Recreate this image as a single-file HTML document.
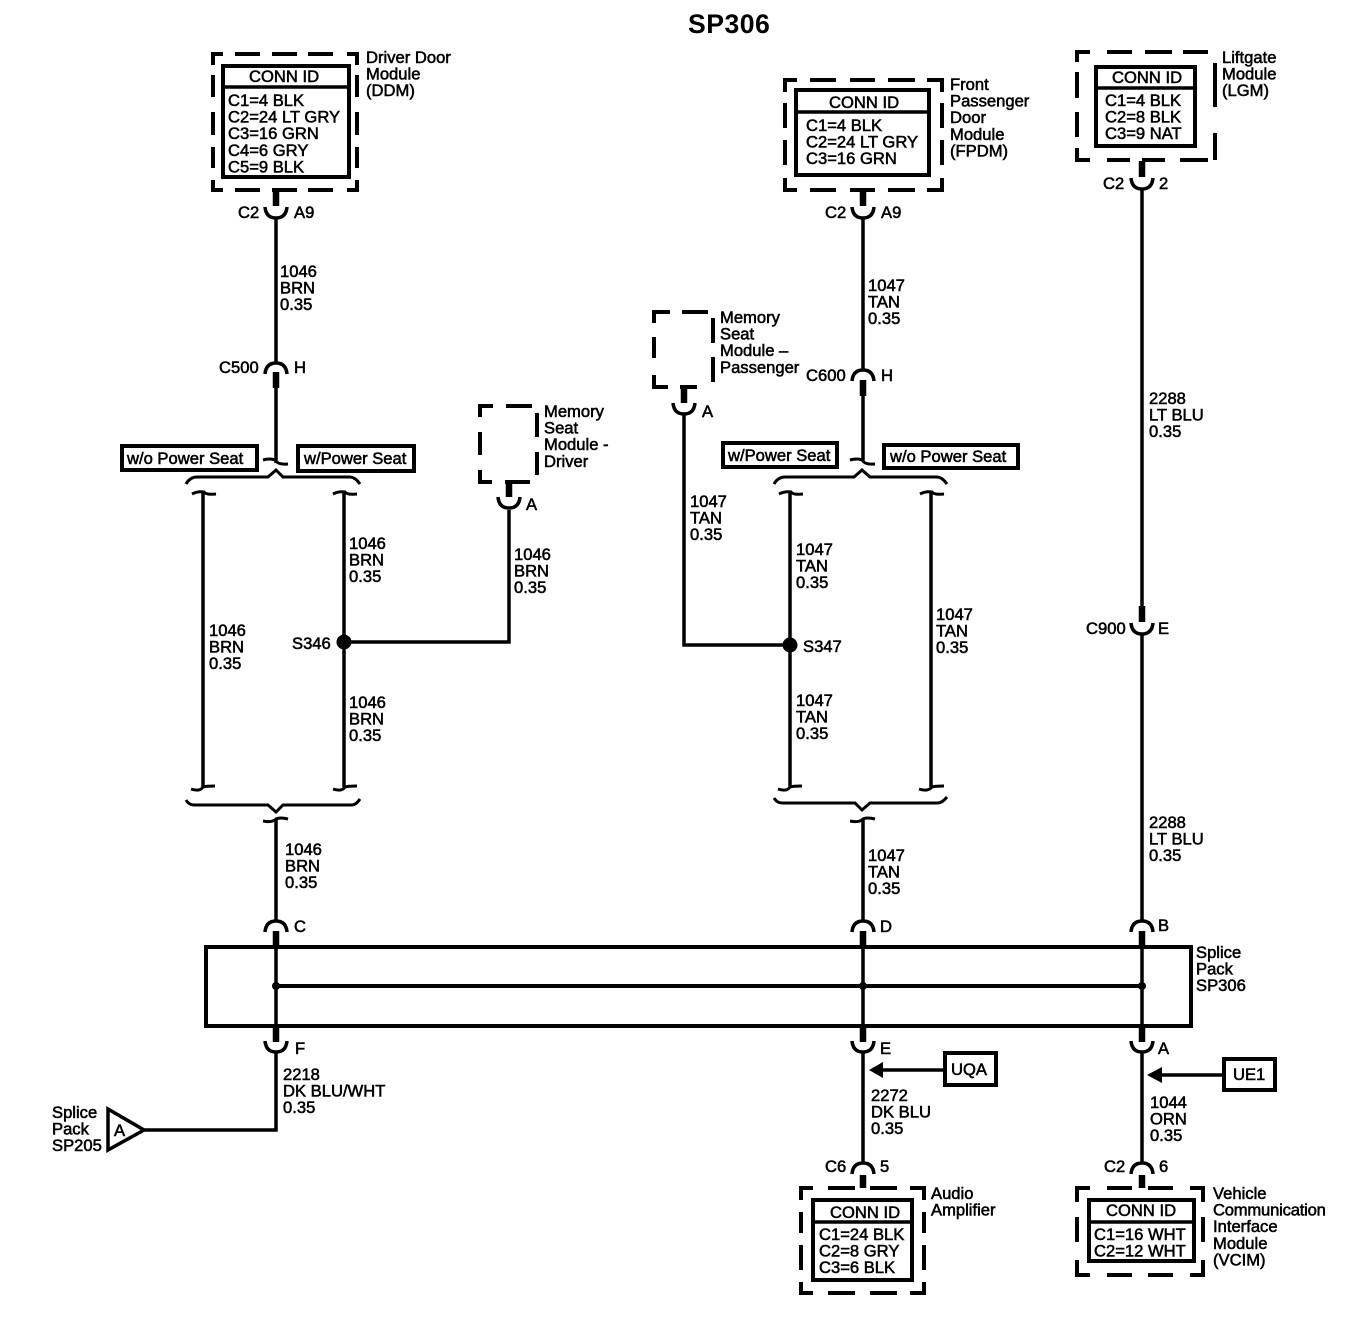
<!DOCTYPE html>
<html><head><meta charset="utf-8"><style>
html,body{margin:0;padding:0;background:#fff}
svg{display:block}
text{font-family:"Liberation Sans",sans-serif;font-size:16.6px;fill:#000;stroke:#000;stroke-width:.55px}
.w{fill:none;stroke:#000;stroke-width:3.5}
.s{fill:none;stroke:#000;stroke-width:6.5}
.b{fill:#fff;stroke:#000;stroke-width:4}
.d{fill:none;stroke:#000;stroke-width:4}
</style></head><body>
<svg width="1370" height="1344" viewBox="0 0 1370 1344" xmlns="http://www.w3.org/2000/svg">
<defs>
<path id="cup" class="w" d="M-11,0Q-10,11 0,11Q10,11 11,0"/>
<path id="arch" class="w" d="M-11,11Q-10,0 0,0Q10,0 11,11"/>
</defs>
<rect width="1370" height="1344" fill="#fff"/>
<text x="688" y="33" style="font-size:26.6px;font-weight:bold;stroke-width:0;letter-spacing:.5px">SP306</text>

<!-- dashed boxes -->
<path class="d" d="M213,65V54H223M235,54H260M272,54H297M308,54H333M347,54H357V65M357,75V97M357,112V135M357,147V168M357,180V190H347M333,190H308M297,190H272M260,190H235M223,190H213V180M213,168V147M213,135V112M213,97V75"/>
<path class="d" d="M785,92V80H797M810,80H836M850,80H875M888,80H915M927,80H942V92M942,103V128M942,140V165M942,178V190H927M915,190H888M875,190H850M836,190H810M797,190H785V178M785,165V140M785,128V103"/>
<path class="d" d="M1077,62V52H1090M1107,52H1132M1145,52H1172M1183,52H1208M1215,63V107M1215,133V160M1208,160H1180M1165,160H1142M1130,160H1107M1090,160H1077V148M1077,137V112M1077,98V72"/>
<path class="d" d="M480,417V406H493M506,406H532M537,413V437M537,452V475M530,482H505M492,482H480V470M480,455V432"/>
<path class="d" d="M654,323V312H670M682,312H708M713,318V343M713,357V382M697,387H680M668,387H654V375M654,358V337"/>
<path class="d" d="M801,1200V1188H813M828,1188H855M870,1188H897M910,1188H924V1200M924,1212V1233M924,1245V1270M924,1282V1293H910M897,1293H870M855,1293H828M813,1293H801V1282M801,1270V1245M801,1233V1212"/>
<path class="d" d="M1077,1202V1188H1090M1107,1188H1132M1148,1188H1173M1190,1188H1203V1202M1203,1217V1242M1203,1260V1275H1190M1173,1275H1148M1132,1275H1107M1090,1275H1077V1260M1077,1242V1217"/>

<!-- conn id boxes -->
<rect class="b" x="223" y="66" width="126" height="111"/><path class="w" d="M223,87H349"/>
<rect class="b" x="796" y="90" width="133" height="85"/><path class="w" d="M796,112H929"/>
<rect class="b" x="1096" y="67" width="99" height="79"/><path class="w" d="M1096,88H1195"/>
<rect class="b" x="813" y="1200" width="99" height="80"/><path class="w" d="M813,1222H912"/>
<rect class="b" x="1089" y="1200" width="105" height="61"/><path class="w" d="M1089,1222H1194"/>

<!-- splice pack -->
<rect class="b" x="206" y="947" width="985" height="79"/>
<path d="M276,986H1142" class="w" style="stroke-width:4"/>
<circle cx="276" cy="986" r="4"/><circle cx="863" cy="986" r="4"/><circle cx="1142" cy="986" r="4"/>

<!-- left harness -->
<use href="#cup" x="276" y="207"/>
<path class="s" d="M276,190V206M276,372V388M276,931V948M276,1026V1042"/>
<path class="w" d="M276,218V362M276,388V463M276,820V920M276,931V1040M276,1052V1130H144"/>
<use href="#arch" x="276" y="363"/>
<use href="#arch" x="276" y="921"/>
<use href="#cup" x="276" y="1041"/>
<path class="w" style="stroke-width:3" d="M263,460Q270,458 275,460Q278,465 288,464"/>
<path class="w" style="stroke-width:3" d="M186,484Q190,477 197,477H268L276,470L283,477H350Q355,477 360,484"/>
<path class="w" style="stroke-width:3" d="M192,494Q198,491 204,492Q206,495 216,494"/>
<path class="w" style="stroke-width:3" d="M333,494Q339,491 345,492Q347,495 357,494"/>
<path class="w" d="M203,492V787M344,492V787"/>
<path class="w" style="stroke-width:3" d="M191,789Q200,792 203,787Q206,786 215,786"/>
<path class="w" style="stroke-width:3" d="M333,789Q342,792 345,787Q348,786 357,786"/>
<path class="w" style="stroke-width:3" d="M186,800Q189,805 194,805H268L276,812L283,805H352Q356,805 360,799"/>
<path class="w" style="stroke-width:3" d="M263,821Q272,823 276,819Q280,817 288,819"/>
<circle cx="344" cy="642" r="7.5"/>
<path class="w" d="M344,642H509V510"/>
<path class="s" d="M509,482V497"/>
<use href="#cup" x="509" y="497"/>

<!-- center harness -->
<use href="#cup" x="863" y="207"/>
<path class="s" d="M863,190V206M863,380V396M863,931V948M863,1026V1042M863,1175V1188"/>
<path class="w" d="M863,218V369M863,396V461M863,820V920M863,931V1040M863,1052V1163"/>
<use href="#arch" x="863" y="370"/>
<use href="#arch" x="863" y="921"/>
<use href="#cup" x="863" y="1041"/>
<use href="#arch" x="863" y="1163"/>
<path class="w" style="stroke-width:3" d="M850,460Q857,458 862,460Q865,465 875,464"/>
<path class="w" style="stroke-width:3" d="M774,484Q778,477 785,477H854L862,470L870,477H937Q942,477 947,484"/>
<path class="w" style="stroke-width:3" d="M779,494Q785,491 791,492Q793,495 803,494"/>
<path class="w" style="stroke-width:3" d="M920,494Q926,491 932,492Q934,495 944,494"/>
<path class="w" d="M790,492V787M931,492V787"/>
<path class="w" style="stroke-width:3" d="M778,789Q787,792 790,787Q793,786 802,786"/>
<path class="w" style="stroke-width:3" d="M919,789Q928,792 932,787Q935,786 944,786"/>
<path class="w" style="stroke-width:3" d="M774,798Q777,803 782,803H855L862,810L870,803H938Q942,803 947,797"/>
<path class="w" style="stroke-width:3" d="M850,821Q859,823 863,819Q867,817 875,819"/>
<circle cx="790" cy="645" r="7.5"/>
<path class="w" d="M790,645H684V413"/>
<path class="s" d="M684,387V403"/>
<use href="#cup" x="684" y="403"/>

<!-- right harness -->
<use href="#cup" x="1142" y="178"/>
<path class="s" d="M1142,161V177M1142,606V622M1142,931V948M1142,1026V1042M1142,1175V1188"/>
<path class="w" d="M1142,189V606M1142,634V920M1142,931V1040M1142,1052V1163"/>
<use href="#cup" x="1142" y="623"/>
<use href="#arch" x="1142" y="921"/>
<use href="#cup" x="1142" y="1041"/>
<use href="#arch" x="1142" y="1163"/>

<!-- option boxes -->
<rect class="b" x="122" y="446" width="135" height="24"/>
<rect class="b" x="298" y="446" width="116" height="25"/>
<rect class="b" x="723" y="443" width="114" height="24"/>
<rect class="b" x="884" y="445" width="134" height="23"/>
<rect class="b" x="945" y="1053" width="51" height="32"/>
<rect class="b" x="1224" y="1059" width="51" height="31"/>
<path class="w" d="M880,1070H945M1160,1075H1224"/>
<path d="M869,1070L883,1062V1078Z"/>
<path d="M1147,1075L1162,1067V1083Z"/>
<path d="M108,1109L144,1130L108,1150Z" fill="#fff" stroke="#000" stroke-width="3.5"/>

<!-- text -->
<text x="249" y="82">CONN ID</text>
<text><tspan x="228" y="106">C1=4 BLK</tspan><tspan x="228" dy="16.6">C2=24 LT GRY</tspan><tspan x="228" dy="16.6">C3=16 GRN</tspan><tspan x="228" dy="16.6">C4=6 GRY</tspan><tspan x="228" dy="16.6">C5=9 BLK</tspan></text>
<text><tspan x="366" y="63">Driver Door</tspan><tspan x="366" dy="16.6">Module</tspan><tspan x="366" dy="16.6">(DDM)</tspan></text>
<text x="238" y="218">C2</text><text x="294" y="218">A9</text>
<text><tspan x="280" y="277">1046</tspan><tspan x="280" dy="16.6">BRN</tspan><tspan x="280" dy="16.6">0.35</tspan></text>
<text x="219" y="373">C500</text><text x="294" y="373">H</text>
<text x="127" y="464">w/o Power Seat</text>
<text x="304" y="464">w/Power Seat</text>
<text><tspan x="209" y="636">1046</tspan><tspan x="209" dy="16.6">BRN</tspan><tspan x="209" dy="16.6">0.35</tspan></text>
<text><tspan x="349" y="549">1046</tspan><tspan x="349" dy="16.6">BRN</tspan><tspan x="349" dy="16.6">0.35</tspan></text>
<text x="292" y="649">S346</text>
<text><tspan x="349" y="708">1046</tspan><tspan x="349" dy="16.6">BRN</tspan><tspan x="349" dy="16.6">0.35</tspan></text>
<text><tspan x="514" y="560">1046</tspan><tspan x="514" dy="16.6">BRN</tspan><tspan x="514" dy="16.6">0.35</tspan></text>
<text x="526" y="510">A</text>
<text><tspan x="544" y="417">Memory</tspan><tspan x="544" dy="16.6">Seat</tspan><tspan x="544" dy="16.6">Module -</tspan><tspan x="544" dy="16.6">Driver</tspan></text>
<text><tspan x="285" y="855">1046</tspan><tspan x="285" dy="16.6">BRN</tspan><tspan x="285" dy="16.6">0.35</tspan></text>
<text x="294" y="932">C</text><text x="295" y="1054">F</text>
<text><tspan x="283" y="1080">2218</tspan><tspan x="283" dy="16.6">DK BLU/WHT</tspan><tspan x="283" dy="16.6">0.35</tspan></text>
<text><tspan x="52" y="1118">Splice</tspan><tspan x="52" dy="16.6">Pack</tspan><tspan x="52" dy="16.6">SP205</tspan></text>
<text x="114" y="1136">A</text>

<text x="829" y="108">CONN ID</text>
<text><tspan x="806" y="131">C1=4 BLK</tspan><tspan x="806" dy="16.6">C2=24 LT GRY</tspan><tspan x="806" dy="16.6">C3=16 GRN</tspan></text>
<text><tspan x="950" y="90">Front</tspan><tspan x="950" dy="16.6">Passenger</tspan><tspan x="950" dy="16.6">Door</tspan><tspan x="950" dy="16.6">Module</tspan><tspan x="950" dy="16.6">(FPDM)</tspan></text>
<text x="825" y="218">C2</text><text x="881" y="218">A9</text>
<text><tspan x="868" y="291">1047</tspan><tspan x="868" dy="16.6">TAN</tspan><tspan x="868" dy="16.6">0.35</tspan></text>
<text x="806" y="381">C600</text><text x="881" y="381">H</text>
<text><tspan x="720" y="323">Memory</tspan><tspan x="720" dy="16.6">Seat</tspan><tspan x="720" dy="16.6">Module –</tspan><tspan x="720" dy="16.6">Passenger</tspan></text>
<text x="702" y="417">A</text>
<text x="728" y="461">w/Power Seat</text>
<text x="890" y="462">w/o Power Seat</text>
<text><tspan x="690" y="507">1047</tspan><tspan x="690" dy="16.6">TAN</tspan><tspan x="690" dy="16.6">0.35</tspan></text>
<text><tspan x="796" y="555">1047</tspan><tspan x="796" dy="16.6">TAN</tspan><tspan x="796" dy="16.6">0.35</tspan></text>
<text x="803" y="652">S347</text>
<text><tspan x="796" y="706">1047</tspan><tspan x="796" dy="16.6">TAN</tspan><tspan x="796" dy="16.6">0.35</tspan></text>
<text><tspan x="936" y="620">1047</tspan><tspan x="936" dy="16.6">TAN</tspan><tspan x="936" dy="16.6">0.35</tspan></text>
<text><tspan x="868" y="861">1047</tspan><tspan x="868" dy="16.6">TAN</tspan><tspan x="868" dy="16.6">0.35</tspan></text>
<text x="880" y="932">D</text><text x="880" y="1054">E</text>
<text x="951" y="1075">UQA</text>
<text><tspan x="871" y="1101">2272</tspan><tspan x="871" dy="16.6">DK BLU</tspan><tspan x="871" dy="16.6">0.35</tspan></text>
<text x="825" y="1172">C6</text><text x="880" y="1172">5</text>
<text x="830" y="1218">CONN ID</text>
<text><tspan x="819" y="1240">C1=24 BLK</tspan><tspan x="819" dy="16.6">C2=8 GRY</tspan><tspan x="819" dy="16.6">C3=6 BLK</tspan></text>
<text><tspan x="931" y="1199">Audio</tspan><tspan x="931" dy="16.6">Amplifier</tspan></text>

<text x="1112" y="83">CONN ID</text>
<text><tspan x="1105" y="106">C1=4 BLK</tspan><tspan x="1105" dy="16.6">C2=8 BLK</tspan><tspan x="1105" dy="16.6">C3=9 NAT</tspan></text>
<text><tspan x="1222" y="63">Liftgate</tspan><tspan x="1222" dy="16.6">Module</tspan><tspan x="1222" dy="16.6">(LGM)</tspan></text>
<text x="1103" y="189">C2</text><text x="1159" y="189">2</text>
<text><tspan x="1149" y="404">2288</tspan><tspan x="1149" dy="16.6">LT BLU</tspan><tspan x="1149" dy="16.6">0.35</tspan></text>
<text x="1086" y="634">C900</text><text x="1158" y="634">E</text>
<text><tspan x="1149" y="828">2288</tspan><tspan x="1149" dy="16.6">LT BLU</tspan><tspan x="1149" dy="16.6">0.35</tspan></text>
<text x="1158" y="931">B</text>
<text><tspan x="1196" y="958">Splice</tspan><tspan x="1196" dy="16.6">Pack</tspan><tspan x="1196" dy="16.6">SP306</tspan></text>
<text x="1158" y="1054">A</text>
<text x="1233" y="1080">UE1</text>
<text><tspan x="1150" y="1108">1044</tspan><tspan x="1150" dy="16.6">ORN</tspan><tspan x="1150" dy="16.6">0.35</tspan></text>
<text x="1104" y="1172">C2</text><text x="1159" y="1172">6</text>
<text x="1106" y="1216">CONN ID</text>
<text><tspan x="1094" y="1240">C1=16 WHT</tspan><tspan x="1094" dy="16.6">C2=12 WHT</tspan></text>
<text><tspan x="1213" y="1199">Vehicle</tspan><tspan x="1213" dy="16.6" style="letter-spacing:-.2px">Communication</tspan><tspan x="1213" dy="16.6">Interface</tspan><tspan x="1213" dy="16.6">Module</tspan><tspan x="1213" dy="16.6">(VCIM)</tspan></text>
</svg>
</body></html>
